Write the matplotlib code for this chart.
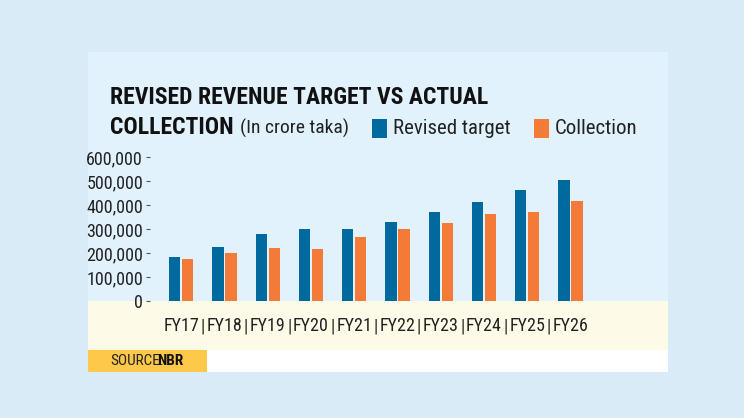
import matplotlib
matplotlib.use("Agg")
import matplotlib.pyplot as plt
from matplotlib.patches import Rectangle
import numpy as np

years = ["FY17", "FY18", "FY19", "FY20", "FY21", "FY22", "FY23", "FY24", "FY25", "FY26"]
revised_target = [185000, 226000, 280000, 301000, 302000, 330000, 370000, 411000, 464000, 504000]
collection = [173000, 202000, 221000, 217000, 266000, 301000, 326000, 363000, 372000, 416000]
yticks = [0, 100000, 200000, 300000, 400000, 500000, 600000]

BLUE = "#006a9f"
ORANGE = "#f47a38"
FONT = ["Liberation Sans Narrow", "Roboto Condensed", "DejaVu Sans"]

W, H = 744, 418
fig = plt.figure(figsize=(W / 100, H / 100), dpi=100)
fig.patch.set_facecolor("#d8ebf7")

# background panels on a full-figure axes in pixel coords
bg = fig.add_axes([0, 0, 1, 1], zorder=-1)
bg.set_xlim(0, W)
bg.set_ylim(H, 0)
bg.axis("off")

def box(x0, y0, x1, y1, color):
    bg.add_patch(Rectangle((x0, y0), x1 - x0, y1 - y0, color=color, lw=0))

box(88, 52, 668, 372, "#e2f2fc")
box(88, 301, 668, 350, "#fdfbe8")
box(88, 350, 668, 372, "#ffffff")
box(88, 350, 207, 372, "#fec84a")
box(372, 119, 387, 138, BLUE)
box(534, 119, 549, 138, ORANGE)

# chart axes: 0 at y=301 px, 600k at y=157 px
ax = fig.add_axes([150 / W, 1 - 301 / H, 440 / W, 144 / H])
ax.set_facecolor("none")
x = np.arange(len(years))
w = 0.26
ax.bar(x - w / 2 - 0.02, revised_target, w, color=BLUE)
ax.bar(x + w / 2 + 0.02, collection, w, color=ORANGE)
ax.set_ylim(0, 600000)
ax.set_xlim(-0.72, 9.45)
ax.set_yticks(yticks)
ax.set_yticklabels([f"{v:,}" for v in yticks], family=FONT, fontsize=13, color="#222222")
ax.tick_params(axis="y", length=3, width=0.8, color="#555555", pad=2)
ax.set_xticks([])
for s in ax.spines.values():
    s.set_visible(False)

# category labels with separators, in the cream strip
for i, yr in enumerate(years):
    ax.text(i, -25 / 144 * 600000, yr, family=FONT, fontsize=13, ha="center",
            va="center", color="#222222", clip_on=False)
    if i < len(years) - 1:
        ax.text(i + 0.5, -25 / 144 * 600000, "|", family=FONT, fontsize=13,
                ha="center", va="center", color="#222222", clip_on=False)

fig.text(110 / W, 1 - 97 / H, "REVISED REVENUE TARGET VS ACTUAL", family=FONT,
         fontsize=17, weight="bold", va="center", color="#111111")
fig.text(110 / W, 1 - 128 / H, "COLLECTION", family=FONT,
         fontsize=17, weight="bold", va="center", color="#111111")
fig.text(240 / W, 1 - 128 / H, "(In crore taka)", family=FONT,
         fontsize=14, va="center", color="#222222")
fig.text(393 / W, 1 - 129 / H, "Revised target", family=FONT, fontsize=15,
         va="center", color="#222222")
fig.text(555 / W, 1 - 129 / H, "Collection", family=FONT, fontsize=15,
         va="center", color="#222222")

fig.text(110 / W, 1 - 361 / H, "SOURCE:", family=FONT, fontsize=11, va="center",
         color="#222222")
fig.text(157 / W, 1 - 361 / H, "NBR", family=FONT, fontsize=11, weight="bold",
         va="center", color="#111111")

fig.savefig("out.png", dpi=100, facecolor=fig.get_facecolor())
